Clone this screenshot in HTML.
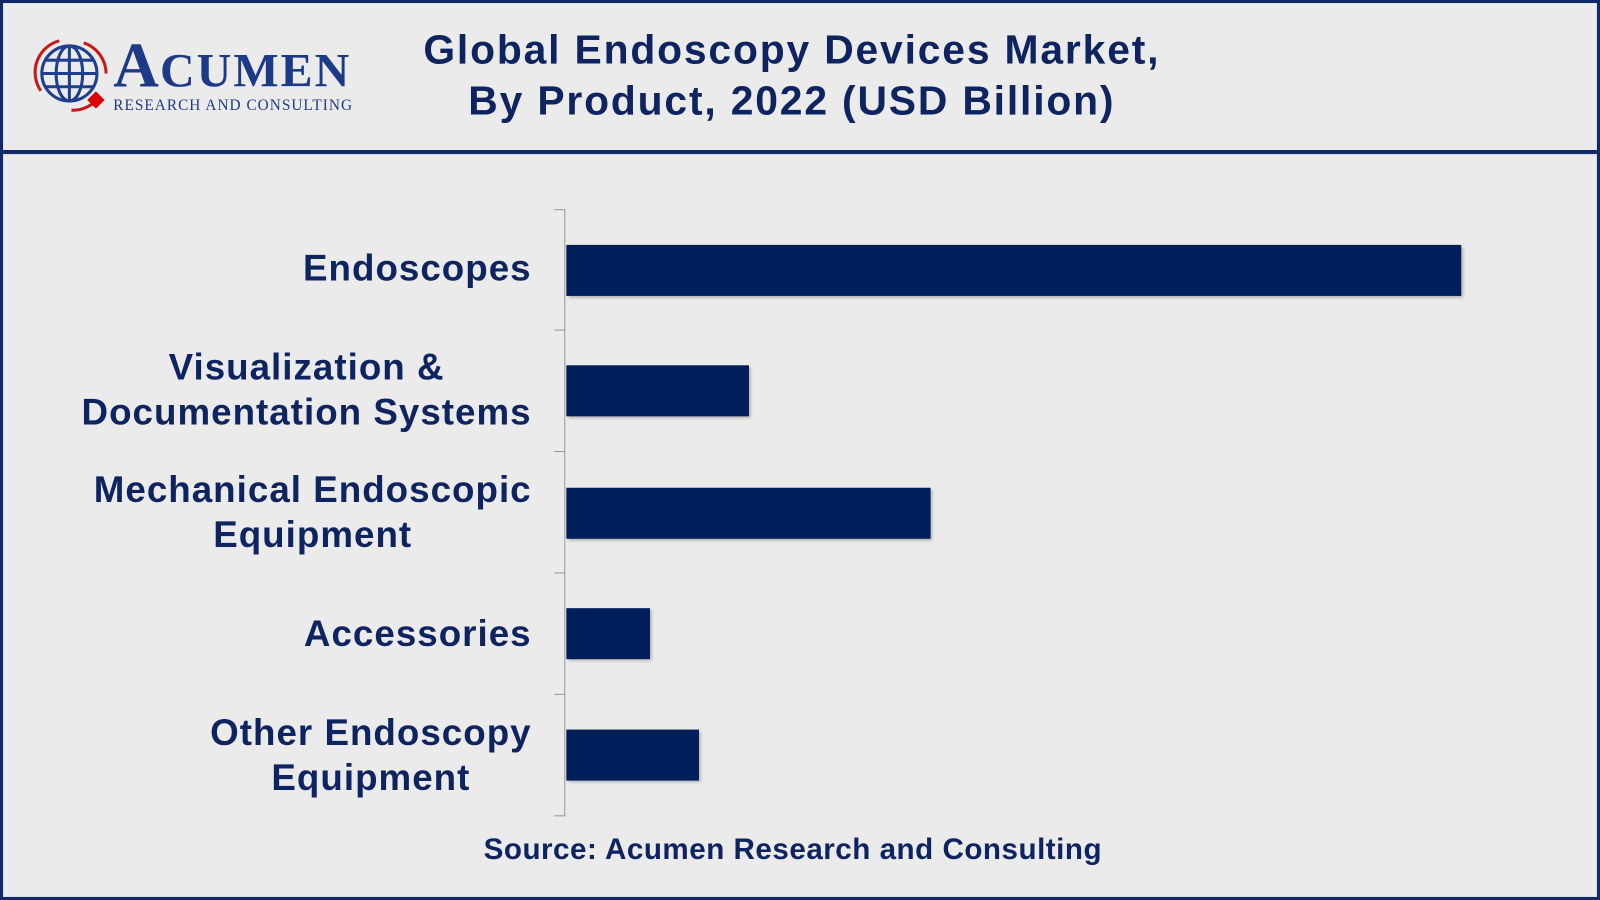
<!DOCTYPE html>
<html><head><meta charset="utf-8"><style>
html,body{margin:0;padding:0;width:1600px;height:900px;overflow:hidden;background:#ebebeb}
#w{position:absolute;left:0;top:0;width:1568px;height:882px;transform:scale(1.020408,1.020408);transform-origin:0 0;background:#ebebeb;font-family:"Liberation Sans",Arial,sans-serif;color:#0d2461}
.b{position:absolute}
.lab{position:absolute;right:1047px;text-align:center;font-weight:bold;font-size:36px;line-height:44px;white-space:nowrap;letter-spacing:1px}
.bar{position:absolute;left:555px;height:50px;background:#001e5a;box-shadow:2px 2px 3px rgba(0,0,0,0.25)}
.tk{position:absolute;left:543px;width:11px;height:1px;background:#999}
</style></head><body><div id="w">
<div class="b" style="left:0;top:0;width:1562px;height:876px;border:3px solid #0f2a66"></div>
<div class="b" style="left:0;top:147px;width:1568px;height:4px;background:#0f2a66"></div>
<svg class="b" style="left:30px;top:34px" width="80" height="80" viewBox="0 0 80 80">
<g fill="none" stroke="#c81818" stroke-width="3"><path d="M10 55 A32 32 0 0 1 28 6"/><path d="M52 8 A32 32 0 0 1 74 38"/><path d="M68 60 A32 32 0 0 1 40 74"/></g>
<g fill="none" stroke="#1e3f8f" stroke-width="3"><circle cx="38" cy="38" r="27"/><ellipse cx="38" cy="38" rx="13" ry="27"/><line x1="11" y1="38" x2="65" y2="38"/><line x1="15" y1="25" x2="61" y2="25"/><line x1="15" y1="51" x2="61" y2="51"/><line x1="38" y1="11" x2="38" y2="65"/></g>
<rect x="58" y="58" width="12" height="12" fill="#d00" transform="rotate(45 64 64)"/>
</svg>
<div class="b" style="left:111px;top:34px;font-family:'Liberation Serif',serif;font-size:62px;line-height:62px;color:#1c3a88;font-weight:bold;letter-spacing:1px">A<span style="font-size:47px;letter-spacing:2px">CUMEN</span></div>
<div class="b" style="left:111px;top:96px;font-family:'Liberation Serif',serif;font-size:15px;color:#1c3a88;letter-spacing:1px">RESEARCH AND CONSULTING</div>
<div class="b" style="left:326px;width:900px;top:24px;text-align:center;font-weight:bold;font-size:40px;line-height:50px;letter-spacing:1.8px">Global Endoscopy Devices Market,<br>By Product, 2022 (USD Billion)</div>
<div class="b" style="left:553px;top:205px;width:1px;height:595px;background:#999"></div>
<div class="tk" style="top:205px"></div><div class="tk" style="top:323px"></div><div class="tk" style="top:442px"></div><div class="tk" style="top:561px"></div><div class="tk" style="top:680px"></div><div class="tk" style="top:799px"></div>
<div class="bar" style="top:240px;width:877px"></div>
<div class="bar" style="top:358px;width:179px"></div>
<div class="bar" style="top:478px;width:357px"></div>
<div class="bar" style="top:596px;width:82px"></div>
<div class="bar" style="top:715px;width:130px"></div>
<div class="lab" style="top:241px">Endoscopes</div>
<div class="lab" style="top:338px">Visualization &amp;<br>Documentation Systems</div>
<div class="lab" style="top:458px">Mechanical Endoscopic<br>Equipment</div>
<div class="lab" style="top:599px">Accessories</div>
<div class="lab" style="top:696px">Other Endoscopy<br>Equipment</div>
<div class="b" style="left:327px;width:900px;top:817px;text-align:center;font-weight:bold;font-size:29px;letter-spacing:0.5px">Source: Acumen Research and Consulting</div>
</div></body></html>
